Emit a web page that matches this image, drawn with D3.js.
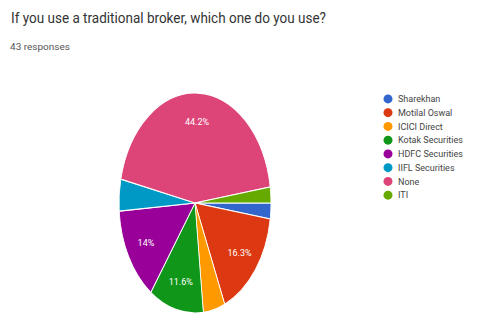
<!DOCTYPE html>
<html>
<head>
<meta charset="utf-8">
<script src="https://cdn.jsdelivr.net/npm/d3@7"></script>
<style>
  body { margin: 0; background: #fff; }
  svg { display: block; font-family: Roboto, "Liberation Sans", Arial, sans-serif; }
</style>
</head>
<body>
<div id="chart"></div>
<script>
// survey answers (43 responses)
const brokers = ["Sharekhan", "Motilal Oswal", "ICICI Direct", "Kotak Securities",
                 "HDFC Securities", "IIFL Securities", "None", "ITI"];
const counts = [1, 7, 2, 5, 6, 2, 19, 1];
const colors = ["#3366cc", "#dc3912", "#ff9900", "#109618",
                "#990099", "#0099c6", "#dd4477", "#66aa00"];

const width = 478, height = 326;
const rx = 76, ry = 110;
const cx = 195, cy = 203;

const svg = d3.select("#chart").append("svg")
  .attr("width", width)
  .attr("height", height);

svg.append("text")
  .attr("x", 11).attr("y", 23)
  .attr("font-size", 14)
  .attr("fill", "#333")
  .attr("textLength", 315)
  .attr("lengthAdjust", "spacingAndGlyphs")
  .text("If you use a traditional broker, which one do you use?");

svg.append("text")
  .attr("x", 10).attr("y", 50)
  .attr("font-size", 9)
  .attr("fill", "#555")
  .attr("textLength", 60)
  .attr("lengthAdjust", "spacingAndGlyphs")
  .text("43 responses");

const total = d3.sum(counts);
const pie = d3.pie().sort(null)
  .startAngle(Math.PI / 2)
  .endAngle(Math.PI / 2 + 2 * Math.PI);
const arcs = pie(counts);

const arc = d3.arc().innerRadius(0).outerRadius(ry);
const labelArc = d3.arc().innerRadius(ry * 0.74).outerRadius(ry * 0.74);

const g = svg.append("g")
  .attr("transform", `translate(${cx},${cy})`);

g.append("g")
  .attr("transform", `scale(${rx / ry},1)`)
  .selectAll("path")
  .data(arcs)
  .join("path")
  .attr("d", arc)
  .attr("fill", (d, i) => colors[i])
  .attr("stroke", "#fff")
  .attr("stroke-width", 1.2);

const fmt = v => {
  const p = Math.round(v / total * 1000) / 10;
  return (p % 1 === 0 ? p.toFixed(0) : p.toFixed(1)) + "%";
};

g.selectAll("text.lbl")
  .data(arcs.filter(d => d.value / total > 0.05))
  .join("text")
  .attr("class", "lbl")
  .attr("x", d => labelArc.centroid(d)[0] * rx / ry)
  .attr("y", d => labelArc.centroid(d)[1])
  .attr("dy", "0.35em")
  .attr("text-anchor", "middle")
  .attr("font-size", 9)
  .attr("fill", "#fff")
  .text(d => fmt(d.value));

const legend = svg.append("g");
const rowY = d3.scaleBand().domain(brokers).range([92, 202]);

const row = legend.selectAll("g")
  .data(brokers)
  .join("g")
  .attr("transform", d => `translate(388,${rowY(d) + rowY.bandwidth() / 2})`);

row.append("circle")
  .attr("r", 4.5)
  .attr("fill", (d, i) => colors[i]);

row.append("text")
  .attr("x", 10)
  .attr("dy", "0.35em")
  .attr("font-size", 9)
  .attr("fill", "#444")
  .text(d => d);
</script>
</body>
</html>
